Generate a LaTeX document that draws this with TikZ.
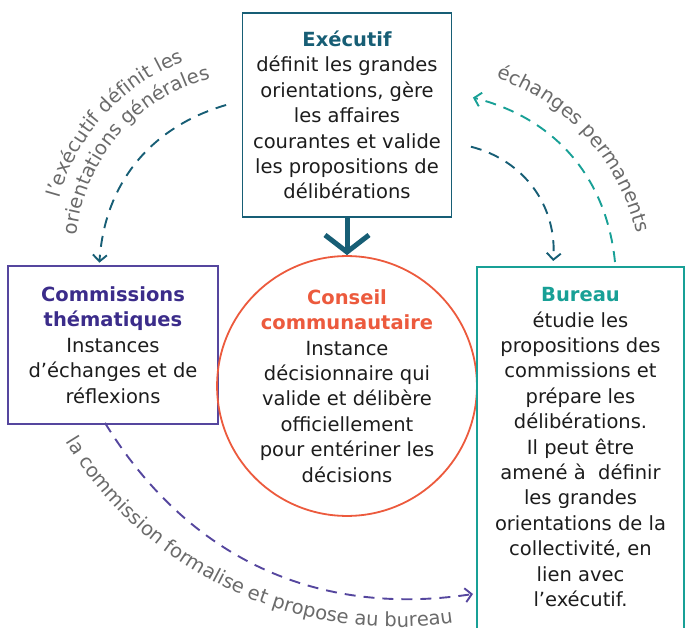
\documentclass[tikz,border=0pt]{standalone}
\usepackage{fontspec}
\setmainfont{DejaVu Sans}
\usetikzlibrary{arrows.meta,positioning,decorations.text}

\definecolor{exeblue}{HTML}{175E75}
\definecolor{compurple}{HTML}{55469E}
\definecolor{comtitle}{HTML}{3B2C8A}
\definecolor{conred}{HTML}{EC5A3D}
\definecolor{burteal}{HTML}{18A096}
\definecolor{lblgray}{HTML}{6A6A6A}
\definecolor{bodyblack}{HTML}{1C1C1C}

\newcommand{\bodyfont}{\fontsize{19.5}{25.4}\selectfont}

\begin{document}
\begin{tikzpicture}[
        x=1pt, y=1pt,
        font=\bodyfont
    ]
    \tikzset{
        box/.style = {rectangle, draw, line width=1.8pt, align=center, text=bodyblack},
        txt/.style = {align=center, text=bodyblack},
        dasharrow/.style = {line width=1.9pt, dash pattern=on 11pt off 8pt,
            -{Straight Barb[length=6.5pt,width=14pt]}},
        curvlabel/.style = {decorate, decoration={text along path, text align=center, text color=lblgray}},
    }
    \useasboundingbox (0,0) rectangle (685,-628);
    \node[box, draw=exeblue, minimum width=209pt, minimum height=204pt] at (347,-115) (exe)
        {{\bfseries\color{exeblue}Exécutif}\\définit les grandes\\orientations, gère\\les affaires\\courantes et valide\\les propositions de\\délibérations};
    \node[box, draw=compurple, minimum width=210pt, minimum height=158pt] at (113,-345) (comm)
        {{\bfseries\color{comtitle}Commissions}\\{\bfseries\color{comtitle}thématiques}\\Instances\\d'échanges et de\\réflexions};
    \node[box, circle, draw=conred, minimum size=238pt, inner sep=0pt] at (347,-386) (cons)
        {{\bfseries\color{conred}Conseil}\\{\bfseries\color{conred}communautaire}\\Instance\\décisionnaire qui\\valide et délibère\\officiellement\\pour entériner les\\décisions};
    \node[box, draw=burteal, minimum width=207pt, minimum height=400pt, anchor=north] at (580.5,-266) (bur) {};
    \node[txt, below=18pt of bur.north] (burtext)
        {{\bfseries\color{burteal}Bureau}\\étudie les\\propositions des\\commissions et\\prépare les\\délibérations.\\Il peut être\\amené à\ \ définir\\les grandes\\orientations de la\\collectivité, en\\lien avec\\l'exécutif.};
    %
    \draw[exeblue, line width=5pt, -{Straight Barb[length=17pt,width=44pt]}] (exe.south) -- (cons.north);
    %
    \draw[dasharrow, exeblue] ([shift={(-15.5,10)}]exe.west) to[bend right=35] ([shift={(-13.6,2.4)}]comm.north);
    \draw[dasharrow, exeblue] ([shift={(18.5,-31.7)}]exe.east) to[bend left=40] ([shift={(-27.3,5)}]bur.north);
    \draw[dasharrow, burteal] ([shift={(34.5,4)}]bur.north) to[bend right=35] ([shift={(20.5,17.4)}]exe.east);
    \draw[dasharrow, compurple] ([shift={(-8,2)}]comm.south) to[bend right=33.5] ([shift={(-107.5,-328)}]bur.north);
    %
    \coordinate (lblone) at (255,-252);
    \coordinate (lbltwo) at (426,-282);
    \coordinate (lblthree) at (396,-239);
    \path[curvlabel, decoration={text={|\bodyfont|l'exécutif définit les}}]
        (lblone) ++(182:203) arc[start angle=182, end angle=93, radius=203];
    \path[curvlabel, decoration={text={|\bodyfont|orientations générales}}]
        (lblone) ++(184.5:179) arc[start angle=184.5, end angle=94.5, radius=179];
    \path[curvlabel, decoration={text={|\bodyfont|échanges permanents}}]
        (lbltwo) ++(87:216) arc[start angle=87, end angle=-3, radius=216];
    \path[curvlabel, decoration={text={|\bodyfont|la commission formalise et propose au bureau}}]
        (lblthree) ++(205:388) arc[start angle=205, end angle=285, radius=388];
\end{tikzpicture}
\end{document}
